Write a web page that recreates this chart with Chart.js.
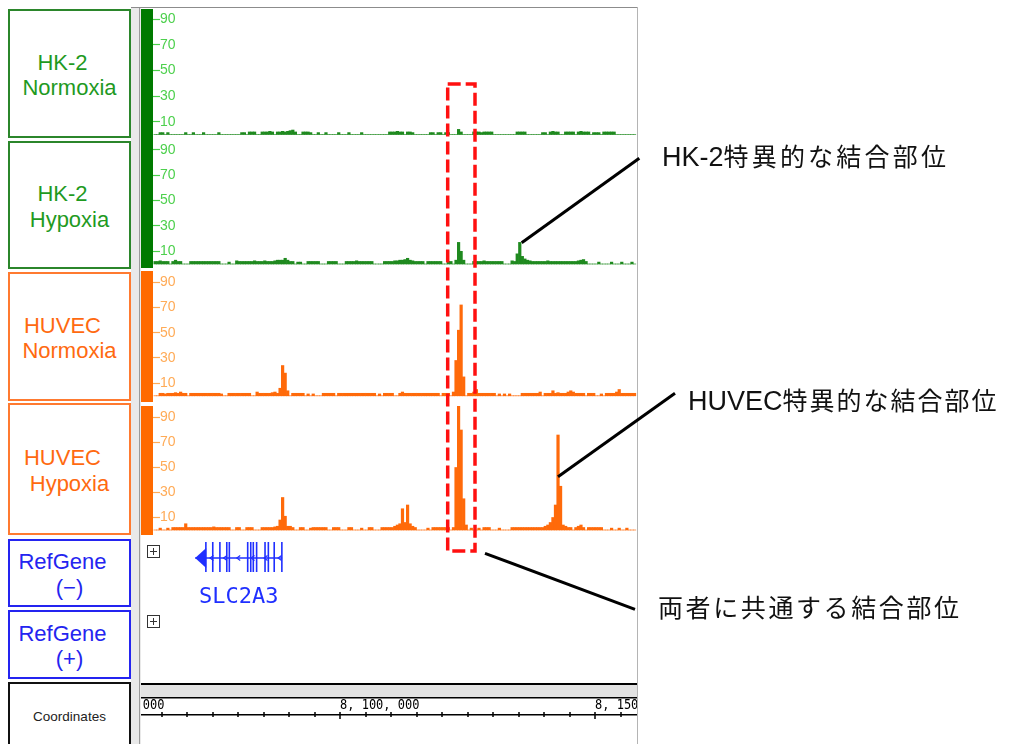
<!DOCTYPE html>
<html lang="ja">
<head>
<meta charset="utf-8">
<title>SLC2A3 locus ChIP-seq tracks</title>
<script src="https://cdn.jsdelivr.net/npm/chart.js@4.4.1/dist/chart.umd.min.js"></script>
<style>
  html, body { margin:0; padding:0; background:#fff; }
  body { position:relative; width:1020px; height:744px; overflow:hidden; font-family:'Liberation Sans', Arial, sans-serif; }
  .abs { position:absolute; }
  .label { position:absolute; left:8px; width:123px; box-sizing:border-box; border:2px solid; background:#fff;
           display:flex; flex-direction:column; align-items:center; justify-content:center;
           font-size:22px; line-height:25.5px; padding-top:3px; }
  .label .first { margin-left:-14px; }
  .green  { border-color:#2b862b; color:#1f9a1f; }
  .orange { border-color:#ff7a30; color:#ff6a10; }
  .blue   { border-color:#2424f0; color:#2424f0; }
  .coord  { border-color:#111; color:#222; font-size:13.5px; padding-top:0; }
  .track { position:absolute; left:141px; }
  .note { position:absolute; font-family:'Noto Sans CJK JP', sans-serif; color:#111; white-space:nowrap;
          line-height:34px; font-size:25px; letter-spacing:3.2px; }
  .note .lat { font-family:'Liberation Sans Narrow', 'Liberation Sans', sans-serif; font-size:27px; letter-spacing:0; }
</style>
</head>
<body>

<!-- track name column -->
<div class="abs" style="left:131px;top:8px;width:10px;height:736px;background:#e9e9e9;"></div>
<div class="abs" style="left:139px;top:8px;width:1px;height:736px;background:#9a9a9a;"></div>
<div class="abs" style="left:131px;top:7px;width:507px;height:1px;background:#8c8c8c;"></div>
<div class="abs" style="left:637px;top:7px;width:1px;height:737px;background:#b4b4b4;"></div>

<div class="label green"  style="top:9px;height:129px;"><div class="first">HK-2</div><div>Normoxia</div></div>
<div class="label green"  style="top:141px;height:128px;"><div class="first">HK-2</div><div>Hypoxia</div></div>
<div class="label orange" style="top:272px;height:129px;"><div class="first">HUVEC</div><div>Normoxia</div></div>
<div class="label orange" style="top:403px;height:132px;"><div class="first">HUVEC</div><div>Hypoxia</div></div>
<div class="label blue"   style="top:539px;height:68px;"><div class="first">RefGene</div><div>(−)</div></div>
<div class="label blue"   style="top:610px;height:69px;"><div class="first">RefGene</div><div>(+)</div></div>
<div class="label coord"  style="top:682px;height:70px;"><div>Coordinates</div></div>

<!-- signal tracks -->
<canvas id="trk0" class="track" width="496" height="130" style="top:9px"></canvas>
<canvas id="trk1" class="track" width="496" height="129" style="top:139px"></canvas>
<canvas id="trk2" class="track" width="496" height="131" style="top:271px"></canvas>
<canvas id="trk3" class="track" width="496" height="129" style="top:406px"></canvas>
<!-- gene models + coordinate ruler -->
<canvas id="ruler" class="track" width="496" height="207" style="top:537px"></canvas>

<!-- highlighted region and callouts -->
<svg class="abs" style="left:0;top:0;pointer-events:none" width="1020" height="744">
  <rect x="447.7" y="84" width="27.3" height="467" fill="none" stroke="#ff1010" stroke-width="3.5" stroke-dasharray="13 5"/>
  <line x1="521.7" y1="242.7" x2="639.3" y2="158.3" stroke="#000" stroke-width="3"/>
  <line x1="558" y1="476.7" x2="675" y2="393.3" stroke="#000" stroke-width="3"/>
  <line x1="485" y1="553.3" x2="635" y2="609.3" stroke="#000" stroke-width="3"/>
</svg>
<div class="note" style="left:662px;top:138px;"><span class="lat">HK-2</span>特異的な結合部位</div>
<div class="note" style="left:688px;top:382px;letter-spacing:2px;"><span class="lat">HUVEC</span>特異的な結合部位</div>
<div class="note" style="left:658px;top:589px;letter-spacing:2.6px;">両者に共通する結合部位</div>

<script>
// Visible genomic window (chr12) and signal bins
const VIEW_START = 8063333;
const VIEW_END = 8158235;
const binStart = 8063500;
const binSize = 500;

// Read-coverage per 500 bp bin
const hk2Normoxia = [
  0,0,1.5,1.5,0,1.5,0,0,0,0,
  0,0,1.5,0,0,1.5,0,0,0,1.5,
  0,0,0,0,0,1.5,0,0,0,0,
  0,0,0,0,1.5,1.5,0,2,2,2,
  0,0,2,2,2,2.5,2,0,2,2,
  2.5,2,2.5,3,3.5,2,0,0,2,2,
  2,1.5,0,0,1.5,0,0,1.5,0,0,
  0,0,1.5,0,0,0,1.5,0,0,0,
  0,1.5,0,0,0,0,0,0,0,0,
  0,0,2,2,2,2.5,2,2,0,2,
  2,1.5,0,0,0,0,0,0,1.5,1.5,
  0,1.5,1.5,0,1.5,1.5,0,0,0,4,
  2,0,0,0,0,2,2,2,1.5,2,
  2,2,2,0,0,0,0,0,0,0,
  0,0,2,2,2,2,0,0,0,0,
  0,0,1.5,1.5,0,2,2.5,2,2,0,
  0,2,2,2,2,0,2,2.5,2,2,
  2,0,1.5,1.5,1.5,0,2,2,2,2,
  2,0,0,0,0,0,0,0,0
];
const hk2Hypoxia = [
  2,2,2.5,2,2,2,0,2,3,2,
  2,0,0,0,2,2,2,2,2,2,
  2,2,2,2,2,2,0,0,0,1.5,
  0,0,2.5,2,2,2,2,2,2,2.5,
  2,2,2,2.5,2,2,2,2.5,3,3,
  3,4.5,3,2,2,0,1.5,1.5,0,0,
  2,2,2,2,2,0,0,0,2,2,
  2,2,0,0,0,2,2,2,2,2.5,
  2,2,2,2,2,2,0,0,0,0,
  2,2,2,2,2.5,2.5,3,3,3.5,4.5,
  3,2.5,2,2,2,2,0,2,2,2,
  2,2,2,0,0,2,2,0,3,17,
  10,3,0,0,0,2,2,2,2,2.5,
  2,2,2,2,2,2,2,0,0,0,
  2.5,2,8,17,6,4,3,2.5,2,2,
  2,2,2,2,2.5,2,2,2,2,2,
  2,2,2,2,2,2,2.5,3,3.5,2,
  0,0,0,0,1.5,0,0,0,0,1.5,
  0,0,0,1.5,0,0,0,1.5,0
];
const huvecNormoxia = [
  0,0,2,2,1.5,2,2,2,2.5,2,
  3,2,2,0,2,2,2,2,2,2,
  2,2,2,2,2,2,1.5,0,0,2,
  2,2,2,2,2,2,2,2,0,0,
  3,2,2,2,2,2,2.5,3,2,6,
  24,18,4,0,2,2,2,2,2,0,
  1.5,0,1.5,0,0,0,2,2,2,2,
  2,0,2,2,2,2,2,2,2,2,
  2,2,2,2,2,2,2,0,1.5,0,
  2,2,2,2,0,0,2,3,2,2,
  2,2,2,2,2,2,2,2,2,2,
  2,2,0,2,2,2,0,3,28,52,
  72,15,0,2,2,3,5,2,2,2,
  2,2,2,2,0,1.5,0,1.5,0,1.5,
  0,0,0,0,2,2,2,2,2,2,
  2,3,0,2,2,2,4,2,2.5,2,
  2,2,3,4,3,2,2,2,2,0,
  2,2,2,0,0,1.5,0,2,2,2,
  2,3,5,2,2,2,2,2,2
];
const huvecHypoxia = [
  0,0,1.5,0,0,1.5,0,2,2,2,
  2,2,5,2,2,2,2,2,2,2,
  2,2,2,2.5,2,2,2,2,2,2,
  0,0,2,2,0,0,2,2,2,0,
  0,0,2,2,2,2,2,2.5,3,8,
  26,11,3,3,2,0,0,2,2,0,
  0,1.5,2,2,2,2,2,2,0,0,
  2,2,2,0,0,0,2,2,0,0,
  0,1.5,0,0,2,2,0,0,0,2,
  2,2,2,2,3,4,5,17,6,20,
  5,3,2,0,0,0,0,1.5,0,2,
  2,2,2,2,2,2,0,2,50,99,
  80,25,4,0,1.5,0,0,1.5,0,2,
  2,2,0,0,0,1.5,0,0,0,0,
  2,2,2,2,2,2,2,2,2,2,
  2,2,2,3,4,6,10,20,76,35,
  4,3,2,2,0,2,3,4,2,0,
  2,2,2,2,2,2,0,0,0,1.5,
  0,0,1.5,0,0,1.5,0,0,0
];

// Signal axis ticks
const signalTicks = [10, 20, 30, 40, 50, 60, 70, 80, 90];
const signalTickLabels = [10, 30, 50, 70, 90];

// RefGene model (minus strand)
const geneName = 'SLC2A3';
const geneStart = 8071600;
const geneEnd = 8088650;
const exonPositions = [8073700, 8075050, 8076450, 8077800, 8078300, 8081900, 8082500,
                       8083000, 8083650, 8085300, 8085950, 8087100, 8088600];
const intronArrows = [8074800, 8077450, 8080050, 8082850, 8085400, 8088150];

// Coordinate ruler steps
const rulerMinorStep = 5000;
const rulerMajorStep = 50000;

Chart.defaults.font.family = "'Liberation Sans', Arial, sans-serif";

const tracks = [
  { canvas: 'trk0', values: hk2Normoxia,   bar: '#007a00', fill: '#1f8a1f', tick: '#4dd04d', yMin: -3.5,  yMax: 98   },
  { canvas: 'trk1', values: hk2Hypoxia,    bar: '#007a00', fill: '#1f8a1f', tick: '#4dd04d', yMin: -3.15, yMax: 98.4 },
  { canvas: 'trk2', values: huvecNormoxia, bar: '#ff6a00', fill: '#ff6a0a', tick: '#ffab57', yMin: -4.9,  yMax: 98.9 },
  { canvas: 'trk3', values: huvecHypoxia,  bar: '#ff6a00', fill: '#ff6a0a', tick: '#ffab57', yMin: -4,    yMax: 99.2 }
];

tracks.forEach(t => {
  new Chart(document.getElementById(t.canvas), {
    type: 'bar',
    data: {
      datasets: [{
        data: t.values.map((v, i) => ({ x: binStart + binSize * (i + 0.5), y: v })),
        backgroundColor: t.fill,
        borderWidth: 0,
        barPercentage: 1,
        categoryPercentage: 1
      }]
    },
    options: {
      responsive: false,
      animation: false,
      events: [],
      layout: { padding: 0, autoPadding: false },
      plugins: { legend: { display: false }, tooltip: { enabled: false } },
      scales: {
        x: { type: 'linear', min: VIEW_START, max: VIEW_END, display: false, offset: false },
        y: {
          position: 'left',
          min: t.yMin,
          max: t.yMax,
          backgroundColor: t.bar,
          afterFit(scale) {
            // narrow coloured axis strip; mirrored labels sit inside the plot
            scale.width = 12;
            scale.paddingTop = 0;
            scale.paddingBottom = 0;
          },
          afterBuildTicks(scale) { scale.ticks = signalTicks.map(v => ({ value: v })); },
          border: { display: false },
          grid: { drawOnChartArea: false, drawTicks: true, tickLength: -7, tickColor: t.tick, tickWidth: 1.2 },
          ticks: {
            mirror: true,
            padding: 7,
            color: t.tick,
            font: { size: 14 },
            callback: v => signalTickLabels.includes(v) ? String(v) : ''
          }
        }
      }
    }
  });
});

function fmtCoord(v) {
  return Math.round(v).toString().replace(/\B(?=(\d{3})+(?!\d))/g, ', ');
}

// Draws the gene model and the coordinate ruler from the shared x scale
const RULER_TOP = 537;
const browserPlugin = {
  id: 'browserRuler',
  afterDraw(chart) {
    const ctx = chart.ctx;
    const xs = chart.scales.x;
    const W = chart.width;
    const Y = y => y - RULER_TOP;
    const px = v => xs.getPixelForValue(v);
    ctx.save();

    // expand/collapse boxes of the two RefGene rows
    ctx.strokeStyle = '#333';
    ctx.lineWidth = 1;
    [545, 615].forEach(y0 => {
      ctx.strokeRect(6.5, Y(y0) + 0.5, 12, 12);
      ctx.beginPath();
      ctx.moveTo(9, Y(y0) + 6.5); ctx.lineTo(16, Y(y0) + 6.5);
      ctx.moveTo(12.5, Y(y0) + 3); ctx.lineTo(12.5, Y(y0) + 10);
      ctx.stroke();
    });

    // gene model
    const blue = '#1f2fff';
    const midY = Y(558);
    ctx.fillStyle = blue;
    ctx.strokeStyle = blue;
    ctx.lineWidth = 1.4;
    ctx.beginPath();
    ctx.moveTo(px(geneStart), midY);
    ctx.lineTo(px(geneEnd), midY);
    ctx.stroke();
    ctx.beginPath();
    ctx.moveTo(px(geneStart), midY);
    ctx.lineTo(px(geneStart) + 11, midY - 10);
    ctx.lineTo(px(geneStart) + 11, midY + 10);
    ctx.closePath();
    ctx.fill();
    exonPositions.forEach(e => ctx.fillRect(px(e) - 0.8, Y(542), 1.6, 30));
    ctx.lineWidth = 1.1;
    intronArrows.forEach(a => {
      const x0 = px(a);
      ctx.beginPath();
      ctx.moveTo(x0 + 2, midY - 2.5);
      ctx.lineTo(x0 - 1.5, midY);
      ctx.lineTo(x0 + 2, midY + 2.5);
      ctx.stroke();
    });
    ctx.font = "22px 'DejaVu Sans Mono', monospace";
    ctx.textAlign = 'center';
    ctx.textBaseline = 'alphabetic';
    ctx.fillText(geneName, (px(geneStart) + px(geneEnd)) / 2, Y(603));

    // coordinate ruler
    ctx.fillStyle = '#e2e2e2';
    ctx.fillRect(0, Y(685), W, 12);
    ctx.fillStyle = '#000';
    ctx.fillRect(0, Y(683), W, 2);
    ctx.fillRect(0, Y(697), W, 1.5);
    ctx.fillRect(0, Y(714), W, 1.5);
    for (let v = Math.ceil(xs.min / rulerMinorStep) * rulerMinorStep; v <= xs.max; v += rulerMinorStep) {
      const x0 = Math.round(px(v));
      const major = v % rulerMajorStep === 0;
      ctx.fillRect(x0 - 0.75, Y(712), 1.5, major ? 7 : 5);
    }
    // taller, narrow ruler lettering
    ctx.font = "12px 'DejaVu Sans Mono', monospace";
    ctx.textAlign = 'left';
    for (let v = Math.floor(xs.min / rulerMajorStep) * rulerMajorStep; v <= xs.max; v += rulerMajorStep) {
      ctx.save();
      ctx.translate(px(v), Y(708.5));
      ctx.scale(1, 1.15);
      ctx.fillText(fmtCoord(v), 0, 0);
      ctx.restore();
    }
    ctx.restore();
  }
};

new Chart(document.getElementById('ruler'), {
  type: 'scatter',
  data: { datasets: [] },
  options: {
    responsive: false,
    animation: false,
    events: [],
    layout: { padding: { left: 12 }, autoPadding: false },
    plugins: { legend: { display: false }, tooltip: { enabled: false } },
    scales: {
      x: { type: 'linear', min: VIEW_START, max: VIEW_END, display: false },
      y: { display: false }
    }
  },
  plugins: [browserPlugin]
});
</script>
</body>
</html>
